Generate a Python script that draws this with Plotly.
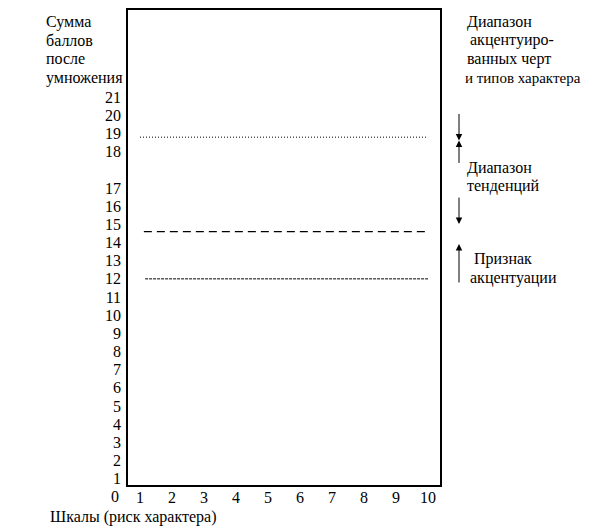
import plotly.graph_objects as go

# шкалы (ось X)
scales = list(range(1, 11))
# сумма баллов (ось Y); между 17 и 18 в оригинале пропущена строка
scores = list(range(1, 22))

# пороговые линии: уровень, стиль
level_names = ["accent", "tend", "sign"]
level_values = [18.8, 14.6, 12.0]
level_x0 = [1.0, 1.12, 1.16]
level_x1 = [10.0, 10.0, 10.0]
level_dash = ["1px,2px", "8px,5px", "3px,1px"]
level_width = [1, 1.2, 1]

FONT = "Liberation Serif, Times New Roman, DejaVu Serif, serif"
OFF = 8  # отступ body на странице
W, H = 595 - OFF, 531 - OFF
L, R, T, B = 128 - OFF, 440 - OFF, 0, 485 - OFF


def row(s):
    # позиция строки: после 17 идёт пустая строка
    return s + 1 if s >= 18 else s


def px_x(px):
    return (px - OFF - L) / (R - L)


def px_y(py):
    return (B - (py - OFF)) / (B - T)


fig = go.Figure()

for name, v, x0, x1, d, w in zip(level_names, level_values, level_x0, level_x1,
                                  level_dash, level_width):
    fig.add_trace(go.Scatter(x=[x0, x1], y=[row(v), row(v)], mode="lines",
                             line=dict(color="black", width=w, dash=d),
                             name=name, hoverinfo="skip"))

ann = []


def txt(s, x, y, anchor="left", size=16):
    ann.append(dict(text=s, xref="paper", yref="paper", x=px_x(x), y=px_y(y),
                    xanchor=anchor, yanchor="middle", showarrow=False,
                    font=dict(family=FONT, size=size, color="black")))


for i, s in enumerate(["Сумма", "баллов", "после", "умножения"]):
    txt(s, 44, 20 + i * 18.6)

for s, x, y in [("Диапазон", 465, 20), ("акцентуиро-", 468, 38.6),
                ("ванных черт", 465, 57.2),
                ("Диапазон", 465, 167), ("тенденций", 465, 185),
                ("Признак", 472, 258), ("акцентуации", 468, 277)]:
    txt(s, x, y)
txt("и типов характера", 463, 75.8, size=15)

txt("Шкалы (риск характера)", 48, 517)
txt("0", 121, 497, anchor="right")

# стрелки справа: (хвост, остриё) в пикселях по вертикали
for tail, head in [(111, 139), (163, 139), (195, 223), (283, 243)]:
    ann.append(dict(text="", xref="paper", yref="paper", x=px_x(459), y=px_y(head),
                    ax=0, ay=tail - head,
                    showarrow=True, arrowhead=2, arrowsize=1.3, arrowwidth=1,
                    arrowcolor="black"))

fig.update_layout(
    width=W, height=H,
    margin=dict(l=L, r=W - R, t=T, b=H - B, pad=0),
    paper_bgcolor="white", plot_bgcolor="white",
    showlegend=False,
    font=dict(family=FONT, size=16, color="black"),
    annotations=ann,
    xaxis=dict(range=[0.625, 10.375], tickvals=scales, showgrid=False,
               zeroline=False, showline=True, mirror=True, linecolor="black",
               linewidth=1.5, ticks="", ticklabelstandoff=-3),
    yaxis=dict(range=[0.654, 26.8], tickvals=[row(s) for s in scores],
               ticktext=[str(s) for s in scores], showgrid=False,
               zeroline=False, showline=True, mirror=True, linecolor="black",
               linewidth=1.5, ticks="", ticklabelstandoff=2),
)

fig.write_html("out.html")
